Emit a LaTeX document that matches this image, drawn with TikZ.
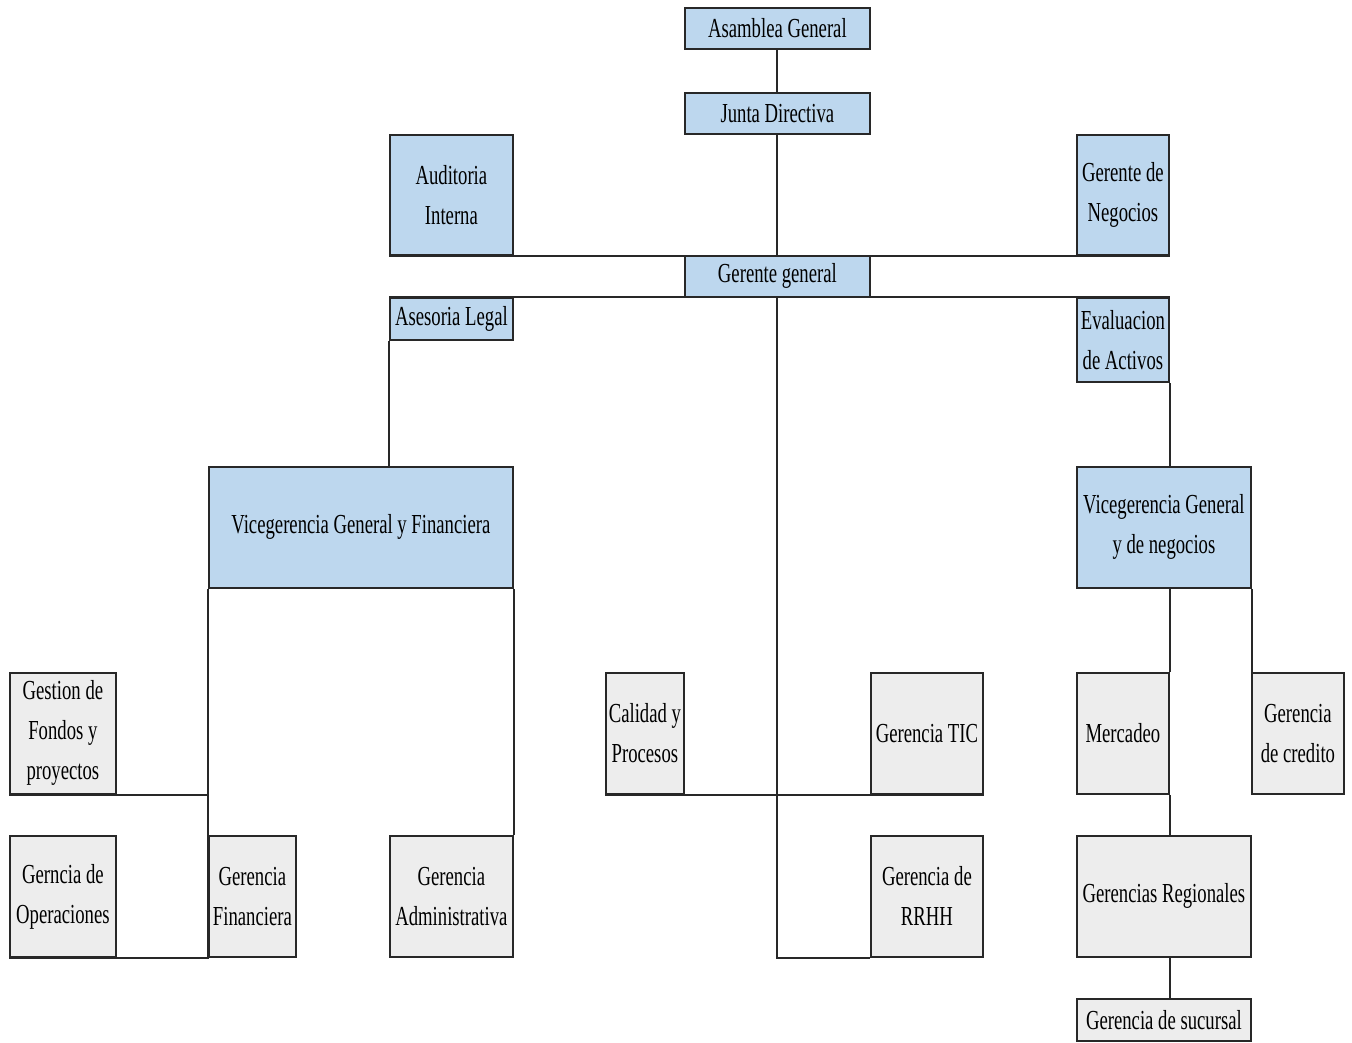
\documentclass[tikz,border=0pt]{standalone}
\usepackage{fontspec}
\setmainfont{Liberation Serif}[FakeStretch=0.68]
\definecolor{boxblue}{RGB}{189,215,238}
\definecolor{boxgrey}{RGB}{237,237,237}
\definecolor{edgegrey}{RGB}{40,40,40}
\begin{document}
\begin{tikzpicture}
  [x=1pt,y=-1pt,
   every node/.style={draw=edgegrey, line width=1.8pt, anchor=north west, inner sep=0pt,
     align=center, font=\fontsize{27.5}{40}\selectfont},
   bluebox/.style={fill=boxblue},
   greybox/.style={fill=boxgrey},
   link/.style={draw=edgegrey, line width=2pt}]
  \useasboundingbox (0,0) rectangle (1352,1042);
  % top of the chart
  \node[bluebox, minimum width=185pt, minimum height=41pt] (ag) at (684,7) {Asamblea General};
  \node[bluebox, minimum width=185pt, minimum height=41pt] (jd) at (684,92) {Junta Directiva};
  \node[bluebox, minimum width=123pt, minimum height=120pt] (ai) at (389,134) {Auditoria\\Interna};
  \node[bluebox, minimum width=92pt, minimum height=120pt] (gneg) at (1076,134) {Gerente de\\Negocios};
  \node[bluebox, minimum width=185pt, minimum height=41pt] (gg) at (684,255) {Gerente general};
  \node[bluebox, minimum width=123pt, minimum height=42pt] (al) at (389,297) {Asesoria Legal};
  \node[bluebox, minimum width=92pt, minimum height=84pt] (eva) at (1076,297) {Evaluacion\\de Activos};
  % vicegerencias
  \node[bluebox, minimum width=304pt, minimum height=121pt] (vgf) at (208,466) {Vicegerencia General y Financiera};
  \node[bluebox, minimum width=174pt, minimum height=121pt] (vgn) at (1076,466) {Vicegerencia General\\y de negocios};
  % gerencias
  \node[greybox, minimum width=106pt, minimum height=121pt] (gfp) at (9,672) {Gestion de\\Fondos y\\proyectos};
  \node[greybox, minimum width=106pt, minimum height=121pt] (gop) at (9,835) {Gerncia de\\Operaciones};
  \node[greybox, minimum width=87pt, minimum height=121pt] (gfin) at (208,835) {Gerencia\\Financiera};
  \node[greybox, minimum width=123pt, minimum height=121pt] (gadm) at (389,835) {Gerencia\\Administrativa};
  \node[greybox, minimum width=78pt, minimum height=121pt] (cyp) at (605,672) {Calidad y\\Procesos};
  \node[greybox, minimum width=112pt, minimum height=121pt] (tic) at (870,672) {Gerencia TIC};
  \node[greybox, minimum width=112pt, minimum height=121pt] (rrhh) at (870,835) {Gerencia de\\RRHH};
  \node[greybox, minimum width=92pt, minimum height=121pt] (merc) at (1076,672) {Mercadeo};
  \node[greybox, minimum width=92pt, minimum height=121pt] (gcred) at (1251,672) {Gerencia\\de credito};
  \node[greybox, minimum width=174pt, minimum height=121pt] (greg) at (1076,835) {Gerencias Regionales};
  \node[greybox, minimum width=174pt, minimum height=42pt] (gsuc) at (1076,998) {Gerencia de sucursal};

\path[link, every edge/.style={link}]
    (ag.south) edge (jd.north)
    (jd.south) edge (gg.north)
    (ai.south west) edge (gneg.south east)
    (al.north west) edge (eva.north east)
    (al.south west) edge (al.south west |- vgf.north)
    (eva.south east) edge (eva.south east |- vgn.north)
    (vgf.south east) edge (gadm.north east)
    (gfp.south west) edge (gfp.south west -| vgf.south west)
    (cyp.south west) edge (tic.south east)
    (merc.north east |- vgn.south) edge (merc.north east)
    (merc.south east) edge (merc.south east |- greg.north)
    (greg.south -| merc.east) edge (gsuc.north -| merc.east)
    (vgn.south east) edge (vgn.south east |- gcred.north)
;
\draw[link] (gg.south) |- (rrhh.south west);
\draw[link] (vgf.south west) |- (gop.south west);
\end{tikzpicture}
\end{document}
